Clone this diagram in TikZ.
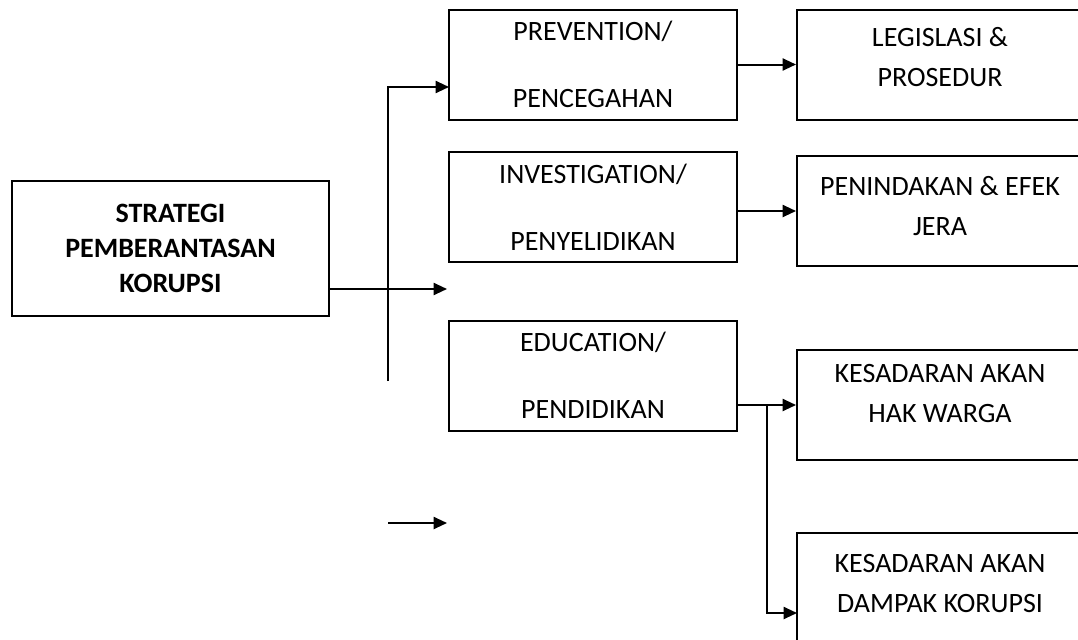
\documentclass[tikz,border=0pt]{standalone}
\usepackage{fontspec}
\setmainfont{Carlito}
\usetikzlibrary{arrows.meta}

\begin{document}
\begin{tikzpicture}[x=0.75pt,y=0.75pt,yscale=-1,
    box/.style={draw, line width=1.5pt, rectangle, inner sep=0pt, minimum width=216pt, minimum height=82.5pt},
    txt/.style={align=center, inner sep=0pt, font=\fontsize{21}{30}\selectfont},
    wide/.style={align=center, font=\fontsize{21}{50}\selectfont},
    arr/.style={line width=1.5pt, -{Triangle[length=10pt,width=9pt]}}]
        \useasboundingbox (0,0) rectangle (1078,639);
        \clip (0,0) rectangle (1078,639);

        %Shape: Rectangle [main]
        \node [box, minimum width=237.75pt, minimum height=101.25pt, align=center, font=\fontsize{21}{26}\selectfont\bfseries] (main) at (170.5,248.5) {STRATEGI\\PEMBERANTASAN\\KORUPSI};

        %Shape: Rectangle [left column]
        \node [box, wide] (prev) at (593,64.5) {PREVENTION/\\PENCEGAHAN};
        \node [box, wide] (inv) at (593,207) {INVESTIGATION/\\PENYELIDIKAN};
        \node [box, wide] (edu) at (593,375.5) {EDUCATION/\\PENDIDIKAN};

        %Shape: Rectangle [right column]
        \node [box] (leg) at (941,64.5) {};
        \node [box] (pen) at (941,211) {};
        \node [box] (hak) at (941,405) {};
        \node [box] (dampak) at (941,588) {};

        % Text Node
        \node [txt] (legtxt) at (940,57.5) {LEGISLASI \&\\PROSEDUR};
        % Text Node
        \node [txt] (pentxt) at (940,206) {PENINDAKAN \& EFEK\\JERA};
        % Text Node
        \node [txt] (haktxt) at (940,394) {KESADARAN AKAN\\HAK WARGA};
        % Text Node
        \node [txt] (dampaktxt) at (940,584) {KESADARAN AKAN\\DAMPAK KORUPSI};

        % free ends
        \coordinate (trunk) at (388,381);
        \coordinate (pin) at (449,87);
        \coordinate (mend) at (447,289);
        \coordinate (lone) at (388,523);
        \coordinate (loneend) at (447,523);
        \coordinate (fork) at (767,405);
        \coordinate (kin) at (797,613);

        \draw [arr] (trunk) |- (pin);
        \draw [arr] (main.east |- mend) -- (mend);
        \draw [arr] (lone) -- (loneend);
        \draw [arr] (prev.east) -- (leg.west);
        \draw [arr] (pen.west -| inv.east) -- (pen.west);
        \draw [arr] (hak.west -| edu.east) -- (hak.west);
        \draw [arr] (fork) |- (kin);

\end{tikzpicture}
\end{document}
